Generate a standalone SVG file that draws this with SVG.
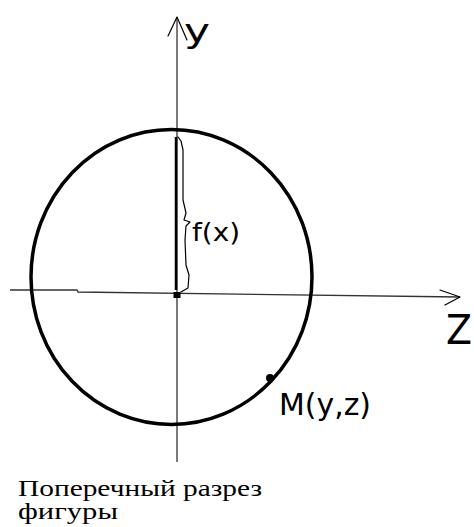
<svg xmlns="http://www.w3.org/2000/svg" width="474" height="527" viewBox="0 0 474 527">
<style>
.ax{fill:none;stroke:#333;stroke-width:1.3}
.thin{fill:none;stroke:#000;stroke-width:1.2;stroke-linecap:round;stroke-linejoin:round}
.hand{font-family:"DejaVu Sans","Liberation Sans",sans-serif;font-weight:normal;fill:#000}
.cap{font-family:"Liberation Serif","DejaVu Serif",serif;font-size:23px;fill:#000}
</style>
<rect width="474" height="527" fill="#fff"/>
<g id="connectors">
<path class="ax" d="M177 462 V17"/>
<path class="thin" d="M168 36 L177 17 L187 40"/>
<path class="ax" d="M10 290 L77 290 L78 292 L460 297"/>
<path class="thin" d="M440 290 L460 297 L445 305"/>
</g>
<g id="circle">
<ellipse cx="171.5" cy="277" rx="140.5" ry="147.5" fill="none" stroke="#000" stroke-width="3.5"/>
</g>
<g id="origin">
<path d="M176 137 V290" stroke="#000" stroke-width="2.5"/>
<rect x="173.5" y="292" width="7" height="6" fill="#000"/>
</g>
<g id="fx">
<path class="thin" d="M178 137 L181 141 L183 150 L183 200 L186 213 L184 220 L190 222 L186 226 L185 240 L186 265 L189 275 L188 288 L181 292"/>
<text class="hand" x="192" y="241" font-size="24" textLength="48" lengthAdjust="spacingAndGlyphs">f(x)</text>
</g>
<g id="M">
<circle cx="270" cy="378" r="4" fill="#000"/>
<text class="hand" x="279" y="415" font-size="30" textLength="92" lengthAdjust="spacingAndGlyphs">M(y,z)</text>
</g>
<g id="ylabel">
<text class="hand" x="184" y="42" font-size="32" textLength="26" lengthAdjust="spacingAndGlyphs">y</text>
</g>
<g id="zlabel">
<text class="hand" x="446" y="344" font-size="40" textLength="26" lengthAdjust="spacingAndGlyphs">Z</text>
</g>
<g id="caption">
<text class="cap" x="18" y="496" textLength="244" lengthAdjust="spacingAndGlyphs">Поперечный разрез</text>
<text class="cap" x="18" y="519" textLength="100" lengthAdjust="spacingAndGlyphs">фигуры</text>
</g>
</svg>
